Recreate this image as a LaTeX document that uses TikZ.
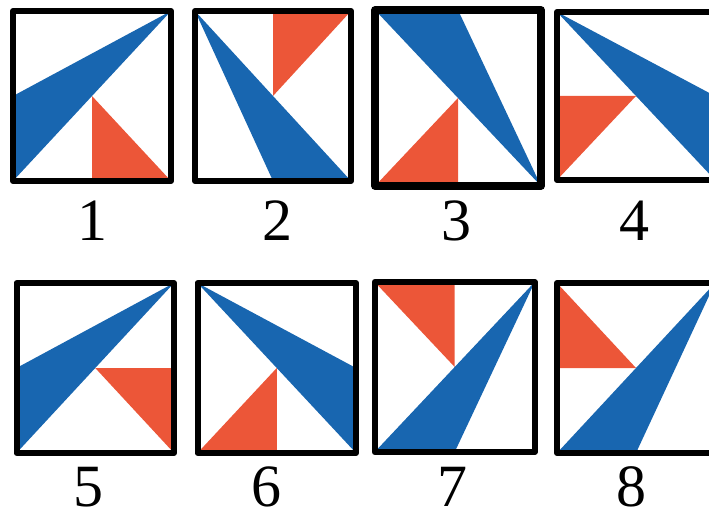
\documentclass[tikz,border=0pt]{standalone}
\usepackage{fontspec}
\setmainfont{Liberation Serif}
\definecolor{tileblue}{RGB}{24,102,176}
\definecolor{tileorange}{RGB}{236,86,56}
\tikzset{
  frame/.style={draw=black,line width=6pt,line join=round},
  bluepart/.style={fill=tileblue},
  redpart/.style={fill=tileorange},
  digit/.style={font=\fontsize{60}{60}\selectfont,inner sep=0pt}
}
\begin{document}
\begin{tikzpicture}[x=1pt,y=-1pt]
  \useasboundingbox (0,0) rectangle (709,516);
  \clip (0,0) rectangle (709,516);
  % first row
  \begin{scope}[shift={(13,181)},x=158pt,y=170pt]
    \fill[bluepart] (0,0)--(0,0.5)--(1,1)--cycle;
    \fill[redpart] (0.5,0.5)--(0.5,0)--(1,0)--cycle;
    \draw[frame] (0,0) rectangle (1,1);
  \end{scope}
  \begin{scope}[shift={(195,181)},x=156pt,y=170pt]
    \fill[bluepart] (0,1)--(0.5,0)--(1,0)--cycle;
    \fill[redpart] (0.5,1)--(1,1)--(0.5,0.5)--cycle;
    \draw[frame] (0,0) rectangle (1,1);
  \end{scope}
  \begin{scope}[shift={(375,186)},x=166pt,y=176pt]
    \fill[bluepart] (0,1)--(0.5,1)--(1,0)--cycle;
    \fill[redpart] (0,0)--(0.5,0)--(0.5,0.5)--cycle;
    \draw[frame,line width=7.5pt] (0,0) rectangle (1,1);
  \end{scope}
  \begin{scope}[shift={(557,180)},x=158pt,y=168pt]
    \fill[bluepart] (0,1)--(1,0.5)--(1,0)--cycle;
    \fill[redpart] (0,0.5)--(0.5,0.5)--(0,0)--cycle;
    \draw[frame] (0,0) rectangle (1,1);
  \end{scope}
  % second row
  \begin{scope}[shift={(16.5,453)},x=157.5pt,y=170pt]
    \fill[bluepart] (0,0)--(0,0.5)--(1,1)--cycle;
    \fill[redpart] (0.5,0.5)--(1,0.5)--(1,0)--cycle;
    \draw[frame] (0,0) rectangle (1,1);
  \end{scope}
  \begin{scope}[shift={(197.5,453)},x=158.5pt,y=170pt]
    \fill[bluepart] (0,1)--(1,0.5)--(1,0)--cycle;
    \fill[redpart] (0,0)--(0.5,0.5)--(0.5,0)--cycle;
    \draw[frame] (0,0) rectangle (1,1);
  \end{scope}
  \begin{scope}[shift={(374.7,452)},x=160pt,y=170pt]
    \fill[redpart] (0,1)--(0.5,1)--(0.5,0.5)--cycle;
    \fill[bluepart] (0,0)--(0.5,0)--(1,1)--cycle;
    \draw[frame] (0,0) rectangle (1,1);
  \end{scope}
  \begin{scope}[shift={(557,453)},x=158pt,y=170pt]
    \fill[redpart] (0,1)--(0,0.5)--(0.5,0.5)--cycle;
    \fill[bluepart] (0,0)--(0.5,0)--(1,1)--cycle;
    \draw[frame] (0,0) rectangle (1,1);
  \end{scope}
  % labels
  \node[digit] (l1) at (92,221) {1};
  \node[digit] (l2) at (277,221) {2};
  \node[digit] (l3) at (456,221) {3};
  \node[digit] (l4) at (634,221) {4};
  \node[digit] (l5) at (88,487) {5};
  \node[digit] (l6) at (266,487) {6};
  \node[digit] (l7) at (452,487) {7};
  \node[digit] (l8) at (631,487) {8};
\end{tikzpicture}
\end{document}
